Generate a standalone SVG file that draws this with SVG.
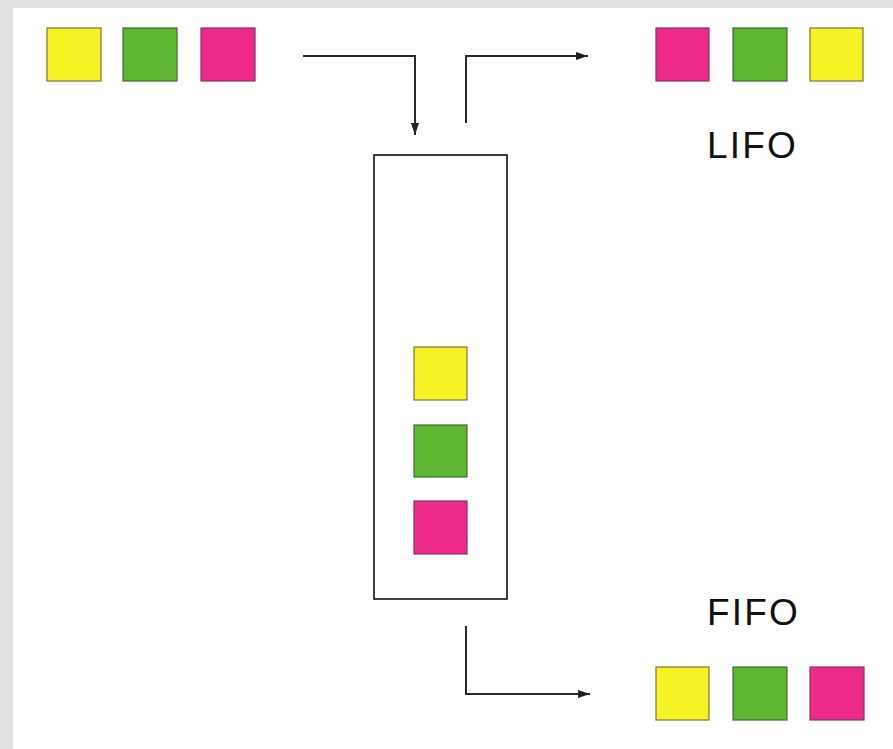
<svg xmlns="http://www.w3.org/2000/svg" width="893" height="749" viewBox="0 0 893 749">
  <defs>
    <marker id="head" viewBox="0 0 12 8" refX="12" refY="4" markerWidth="12" markerHeight="8" markerUnits="userSpaceOnUse" orient="auto">
      <path d="M0,0 L12,4 L0,8 Z" fill="#222"/>
    </marker>
  </defs>
  <style>
    .y { fill: #f6f325; stroke: #7d7533; stroke-width: 1.2; }
    .g { fill: #5db532; stroke: #426b33; stroke-width: 1.2; }
    .p { fill: #ee2a89; stroke: #833563; stroke-width: 1.2; }
    .link { fill: none; stroke: #2a2a2a; stroke-width: 2; }
    .label { font-family: "Liberation Sans", Arial, sans-serif; font-size: 37px; letter-spacing: 2.2px; fill: #111; }
  </style>

  <!-- page backdrop -->
  <rect x="0" y="0" width="893" height="749" fill="#e2e2e2"/>
  <rect x="13" y="8" width="880" height="741" fill="#ffffff"/>

  <!-- incoming items -->
  <g id="input">
    <rect class="y" x="47" y="28" width="54" height="53"/>
    <rect class="g" x="123" y="28" width="54" height="53"/>
    <rect class="p" x="201" y="28" width="54" height="53"/>
  </g>

  <!-- the store column -->
  <g id="store">
    <rect x="374" y="155" width="133" height="444" fill="#fff" stroke="#111" stroke-width="1.6"/>
    <rect class="y" x="414" y="347" width="53" height="53"/>
    <rect class="g" x="414" y="425" width="53" height="52"/>
    <rect class="p" x="414" y="501" width="53" height="53"/>
  </g>

  <!-- LIFO output -->
  <g id="lifo">
    <rect class="p" x="656" y="28" width="53" height="53"/>
    <rect class="g" x="733" y="28" width="54" height="53"/>
    <rect class="y" x="810" y="28" width="53" height="53"/>
    <text class="label" x="707" y="158">LIFO</text>
  </g>

  <!-- FIFO output -->
  <g id="fifo">
    <text class="label" x="707" y="625">FIFO</text>
    <rect class="y" x="656" y="667" width="53" height="53"/>
    <rect class="g" x="733" y="667" width="54" height="53"/>
    <rect class="p" x="810" y="667" width="54" height="53"/>
  </g>

  <!-- connectors -->
  <g id="connectors">
    <path class="link" d="M303,56 H415 V135" marker-end="url(#head)"/>
    <path class="link" d="M466,123 V56 H588" marker-end="url(#head)"/>
    <path class="link" d="M466,626 V694 H590" marker-end="url(#head)"/>
  </g>
</svg>
